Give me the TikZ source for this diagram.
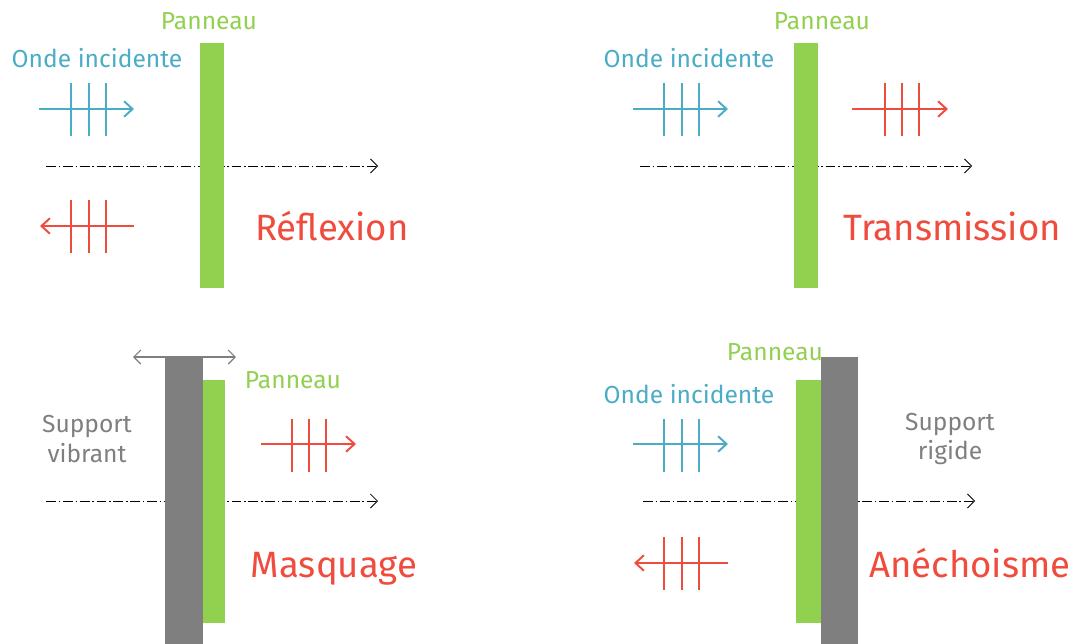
\documentclass[tikz,border=0pt]{standalone}
\usepackage{fontspec}
\setmainfont{Fira Sans}
\usetikzlibrary{arrows.meta}
\definecolor{panblue}{HTML}{4BACC6}
\definecolor{panred}{HTML}{F04C3E}
\definecolor{pangreen}{HTML}{92D050}
\definecolor{pangray}{HTML}{7F7F7F}

\begin{document}
\begin{tikzpicture}[x=0.025cm, y=-0.025cm,
    lbl/.style={inner sep=0pt, anchor=base, font=\fontsize{17.5}{21}\selectfont},
    big/.style={inner sep=0pt, anchor=base, text=panred, font=\fontsize{26}{30}\selectfont},
    wave/.style={line width=1.4pt, -{Straight Barb[length=6pt, width=11pt, line width=1.4pt]}},
    wavetick/.style={line width=0.9pt},
    axe/.style={line width=0.6pt, dash pattern=on 7pt off 2pt on 1pt off 2pt,
        -{Straight Barb[length=5pt, width=10pt]}},
    wall/.style={fill=pangray}]
    \useasboundingbox (0,0) rectangle (1072,644);

    % Reflexion
    \draw[axe] (46,166) -- (378,166);
    \fill[pangreen] (200,43) rectangle (224,288);
    \node[lbl, text=pangreen] (pan1) at (209,30) {Panneau};
    \node[lbl, text=panblue] (inc1) at (97,68) {Onde incidente};
    \coordinate (a1) at (39,109);
    \coordinate (b1) at (134,109);
    \draw[wave, panblue] (a1) -- (b1);
    \foreach \x in {71,89,106} \draw[wavetick, panblue] (\x,83) -- (\x,136);
    \coordinate (a2) at (134,226);
    \coordinate (b2) at (40,226);
    \draw[wave, panred] (a2) -- (b2);
    \foreach \x in {71,89,106} \draw[wavetick, panred] (\x,200) -- (\x,253);
    \node[big] (refl) at (332,240) {Réflexion};

    % Transmission
    \draw[axe] (640,166) -- (972,166);
    \fill[pangreen] (794,43) rectangle (818,288);
    \node[lbl, text=pangreen] (pan2) at (822,30) {Panneau};
    \node[lbl, text=panblue] (inc2) at (689,68) {Onde incidente};
    \coordinate (a3) at (633,109);
    \coordinate (b3) at (728,109);
    \draw[wave, panblue] (a3) -- (b3);
    \foreach \x in {664,682,699} \draw[wavetick, panblue] (\x,83) -- (\x,136);
    \coordinate (a4) at (852,109);
    \coordinate (b4) at (948,109);
    \draw[wave, panred] (a4) -- (b4);
    \foreach \x in {885,902,919} \draw[wavetick, panred] (\x,83) -- (\x,136);
    \node[big] (trans) at (952,240) {Transmission};

    % Masquage
    \draw[axe] (46,501) -- (378,501);
    \fill[wall] (165,357) rectangle (203,644);
    \fill[pangreen] (203,380) rectangle (225,623);
    \coordinate (v1) at (133,357);
    \coordinate (v2) at (236,357);
    \draw[pangray, line width=0.8pt, {Straight Barb[length=5pt, width=10pt]}-{Straight Barb[length=5pt, width=10pt]}] (v1) -- (v2);
    \node[lbl, text=pangreen] (pan3) at (293,388) {Panneau};
    \node[lbl, text=pangray, anchor=center, align=center] (supv) at (87,439) {Support\\vibrant};
    \coordinate (a5) at (261,444);
    \coordinate (b5) at (356,444);
    \draw[wave, panred] (a5) -- (b5);
    \foreach \x in {292,309,326} \draw[wavetick, panred] (\x,419) -- (\x,472);
    \node[big] (masq) at (334,577) {Masquage};

    % Anechoisme
    \draw[axe] (643,501) -- (975,501);
    \fill[pangreen] (796,380) rectangle (821,623);
    \fill[wall] (821,357) rectangle (858,644);
    \node[lbl, text=pangreen] (pan4) at (775,360) {Panneau};
    \node[lbl, text=panblue] (inc4) at (689,403) {Onde incidente};
    \node[lbl, text=pangray, anchor=center, align=center] (supr) at (950,439) {Support\\rigide};
    \coordinate (a6) at (633,444);
    \coordinate (b6) at (728,444);
    \draw[wave, panblue] (a6) -- (b6);
    \foreach \x in {664,682,699} \draw[wavetick, panblue] (\x,419) -- (\x,472);
    \coordinate (a7) at (728,563);
    \coordinate (b7) at (634,563);
    \draw[wave, panred] (a7) -- (b7);
    \foreach \x in {664,682,699} \draw[wavetick, panred] (\x,537) -- (\x,590);
    \node[big] (anec) at (970,577) {Anéchoisme};
\end{tikzpicture}
\end{document}
